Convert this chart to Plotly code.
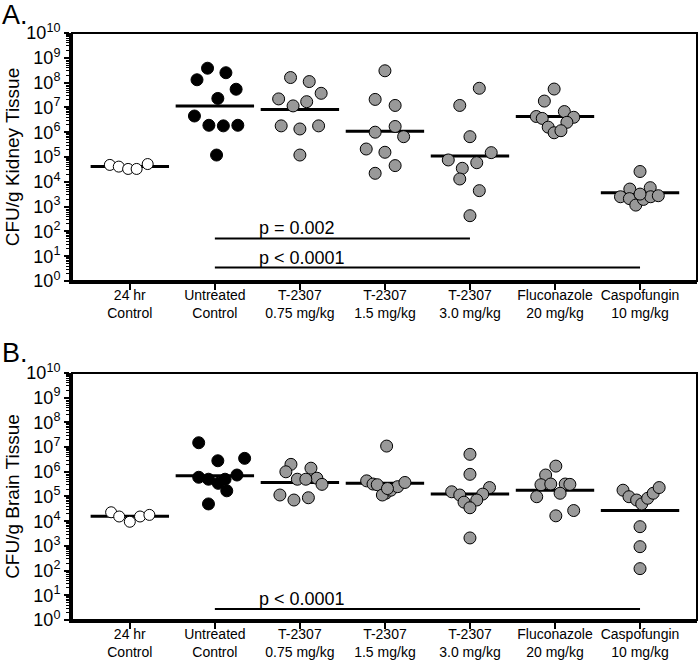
import math
import plotly.graph_objects as go

groups = ["24 hr<br>Control", "Untreated<br>Control", "T-2307<br>0.75 mg/kg",
          "T-2307<br>1.5 mg/kg", "T-2307<br>3.0 mg/kg", "Fluconazole<br>20 mg/kg",
          "Caspofungin<br>10 mg/kg"]

# Kidney tissue CFU/g (panel A)
kidney = [
    [4.8e4, 4.1e4, 3.3e4, 3.3e4, 5.2e4],
    [3.8e8, 2.5e8, 1.3e8, 5.4e7, 2.3e7, 4.5e6, 1.9e6, 1.8e6, 1.9e6, 1.2e5],
    [1.6e8, 1.1e8, 3.7e7, 2.2e7, 1.7e7, 1.15e7, 1.8e6, 1.35e6, 1.8e6, 1.2e5],
    [3.0e8, 2.1e7, 1.2e7, 1.7e6, 1.0e6, 6.6e5, 2.1e5, 1.55e5, 4.5e4, 2.2e4],
    [5.9e7, 1.2e7, 6.6e5, 1.5e5, 7.6e4, 5.9e4, 3.5e4, 1.3e4, 4.4e3, 430],
    [5.5e7, 1.8e7, 4.3e6, 3.6e6, 6.8e6, 4.0e6, 2.5e6, 1.6e6, 9.5e5, 1.15e6],
    [2.6e4, 5.1e3, 5.8e3, 2.5e3, 2.1e3, 1.15e3, 1.95e3, 2.5e3, 2.75e3, 3.2e3],
]
kidney_jitter = [
    [-0.235, -0.13, -0.02, 0.08, 0.21],
    [-0.086, 0.13, -0.21, 0.25, 0.035, -0.24, -0.07, 0.10, 0.27, 0.02],
    [-0.11, 0.11, 0.25, -0.25, 0.08, -0.08, -0.22, 0.0, 0.22, 0.0],
    [0.0, -0.115, 0.12, 0.12, -0.115, 0.22, -0.22, 0.0, 0.12, -0.115],
    [0.11, -0.12, 0.0, 0.25, -0.255, 0.08, -0.09, -0.12, 0.11, 0.0],
    [-0.01, -0.125, -0.22, -0.15, 0.11, 0.22, 0.14, -0.08, -0.01, 0.07],
    [0.0, -0.12, 0.12, -0.23, -0.125, -0.05, 0.04, 0.125, 0.215, 0.0],
]
kidney_median = [4.1e4, 1.15e7, 8.3e6, 1.1e6, 1.1e5, 4.3e6, 3.6e3]

# Brain tissue CFU/g (panel B)
brain = [
    [2.3e4, 1.55e4, 9.5e3, 1.55e4, 1.8e4],
    [1.5e7, 2.8e6, 3.5e6, 6.0e5, 5.0e5, 3.4e5, 7.4e5, 1.7e5, 5.0e4, 5.0e5],
    [2.0e6, 1.4e6, 1.0e6, 5.5e5, 5.0e5, 5.0e5, 3.1e5, 1.15e5, 7.2e4, 8.9e4],
    [1.1e7, 4.3e5, 3.2e5, 3.0e5, 1.35e5, 1.15e5, 1.8e5, 2.5e5, 3.7e5, 2.1e5],
    [5.1e6, 7.9e5, 1.55e5, 1.15e5, 2.3e5, 1.25e5, 5.9e4, 7.2e4, 3.5e4, 2.1e3],
    [1.7e6, 7.4e5, 3.0e5, 3.2e5, 3.2e5, 3.1e5, 1.35e5, 9.8e4, 1.65e4, 2.7e4],
    [1.8e5, 9.8e4, 7.2e4, 5.0e4, 8.5e4, 1.35e5, 2.3e5, 6.0e3, 930, 120],
]
brain_jitter = [
    [-0.22, -0.125, 0.0, 0.12, 0.23],
    [-0.19, 0.035, 0.35, -0.19, -0.075, 0.04, 0.26, 0.14, -0.075, 0.12],
    [-0.105, 0.13, -0.165, 0.2, -0.03, 0.07, 0.26, -0.235, -0.07, 0.1],
    [0.02, -0.215, -0.14, -0.09, 0.01, -0.03, 0.07, 0.15, 0.235, 0.03],
    [0.0, 0.0, -0.215, -0.12, 0.23, 0.15, -0.07, 0.08, 0.0, 0.0],
    [0.01, -0.11, -0.165, -0.05, 0.12, 0.175, 0.06, -0.215, 0.01, 0.22],
    [-0.2, -0.13, -0.04, 0.02, 0.09, 0.155, 0.225, 0.0, 0.0, 0.0],
]
brain_median = [1.6e4, 6.9e5, 3.7e5, 3.4e5, 1.25e5, 1.8e5, 2.7e4]

# significance bars: (from group, to group, level, label)
kidney_sig = [(1, 4, 52, "p = 0.002"), (1, 6, 3.5, "p < 0.0001")]
brain_sig = [(1, 6, 2.8, "p < 0.0001")]

fills = ["white", "black", "#999999", "#999999", "#999999", "#999999", "#999999"]
msizes = [11, 12, 12, 12, 12, 12, 12]

FONT = "Arial, Liberation Sans, sans-serif"
fig = go.Figure()


def add_panel(vals, jit, med, sig, xa, ya):
    for i in range(len(groups)):
        fig.add_trace(go.Scatter(
            x=[i], y=[med[i]], mode="markers", xaxis=xa, yaxis=ya,
            marker=dict(symbol="line-ew", size=56, line=dict(width=3, color="black")),
            showlegend=False, hoverinfo="skip"))
    for i in range(len(groups)):
        fig.add_trace(go.Scatter(
            x=[i + d for d in jit[i]], y=vals[i], mode="markers", xaxis=xa, yaxis=ya,
            marker=dict(size=msizes[i], color=fills[i], line=dict(width=1, color="black")),
            showlegend=False))
    for a, b, lvl, txt in sig:
        fig.add_trace(go.Scatter(
            x=[a, b], y=[lvl, lvl], mode="lines", xaxis=xa, yaxis=ya,
            line=dict(color="black", width=2), showlegend=False, hoverinfo="skip"))
        fig.add_annotation(x=a + 0.5, y=math.log10(lvl), xref=xa, yref=ya, text=txt,
                           showarrow=False, xanchor="left", yanchor="bottom", yshift=-2,
                           font=dict(family=FONT, size=18, color="black"))


add_panel(kidney, kidney_jitter, kidney_median, kidney_sig, "x2", "y2")
add_panel(brain, brain_jitter, brain_median, brain_sig, "x", "y")

yticks = [10 ** n for n in range(11)]
ytext = ["10<sup>%d</sup>" % n for n in range(11)]
minor_vals = [k * 10 ** n for n in range(10) for k in range(2, 10)]

yax = dict(type="log", range=[0, 10], tickvals=yticks, ticktext=ytext, automargin=False,
           ticks="outside", ticklen=5, tickwidth=2, tickcolor="black",
           showline=True, linewidth=3, linecolor="black", showgrid=False, zeroline=False,
           minor=dict(tickvals=minor_vals, ticks="outside", ticklen=3, tickwidth=1,
                      tickcolor="black", showgrid=False),
           tickfont=dict(family=FONT, size=18, color="black"),
           title=dict(font=dict(family=FONT, size=19, color="black"), standoff=2))
xax = dict(range=[-0.68, 6.67], tickvals=list(range(7)), ticktext=groups, automargin=False,
           ticks="outside", ticklen=6, tickwidth=2, tickcolor="black",
           showline=True, linewidth=3, linecolor="black", showgrid=False, zeroline=False,
           ticklabelstandoff=-7,
           tickfont=dict(family=FONT, size=14, color="black"))

fig.update_layout(
    width=700, height=662,
    margin=dict(l=72, r=3, t=33, b=42),
    plot_bgcolor="white", paper_bgcolor="white",
    xaxis=dict(xax, domain=[0, 1], anchor="y"),
    yaxis=dict(yax, domain=[0, 0.4208], anchor="x",
               title=dict(yax["title"], text="CFU/g Brain Tissue")),
    xaxis2=dict(xax, domain=[0, 1], anchor="y2"),
    yaxis2=dict(yax, domain=[0.5775, 1.0], anchor="x2",
                title=dict(yax["title"], text="CFU/g Kidney Tissue")),
)

for xr, yr in [("x domain", "y domain"), ("x2 domain", "y2 domain")]:
    fig.add_shape(type="rect", xref=xr, yref=yr, x0=0, x1=1, y0=0, y1=1,
                  line=dict(color="black", width=2), fillcolor="rgba(0,0,0,0)", layer="above")

fig.add_annotation(x=0, y=1, xref="paper", yref="paper", xshift=-72, yshift=35,
                   text="A.", showarrow=False, xanchor="left", yanchor="top",
                   font=dict(family=FONT, size=27, color="black"))
fig.add_annotation(x=0, y=0.4208, xref="paper", yref="paper", xshift=-72, yshift=37,
                   text="B.", showarrow=False, xanchor="left", yanchor="top",
                   font=dict(family=FONT, size=27, color="black"))

fig.write_html("out.html", config={"displayModeBar": False},
               post_script="document.body.style.margin='0';document.body.style.overflow='hidden';")
